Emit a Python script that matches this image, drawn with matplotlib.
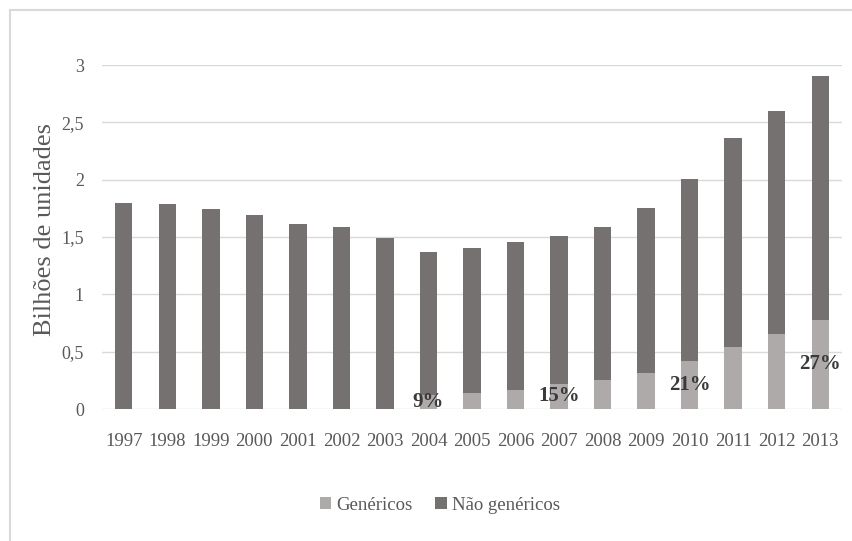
import numpy as np
import matplotlib
matplotlib.use("Agg")
import matplotlib.pyplot as plt
from matplotlib.lines import Line2D

# -----------------------------------------------------
# DATA (bilhões de unidades)
# -----------------------------------------------------
anos = ["1997", "1998", "1999", "2000", "2001", "2002", "2003", "2004", "2005",
        "2006", "2007", "2008", "2009", "2010", "2011", "2012", "2013"]
genericos = [0.0, 0.0, 0.0, 0.0, 0.0, 0.0, 0.0, 0.12, 0.14,
             0.17, 0.22, 0.25, 0.31, 0.42, 0.54, 0.65, 0.78]
nao_genericos = [1.80, 1.785, 1.745, 1.69, 1.61, 1.59, 1.495, 1.25, 1.26,
                 1.29, 1.29, 1.34, 1.44, 1.59, 1.82, 1.945, 2.12]
# years that get a share label
anos_rotulo = ["2004", "2007", "2010", "2013"]

# -----------------------------------------------------
# STYLE
# -----------------------------------------------------
COR_GEN = "#AEAAAA"
COR_NAO = "#767171"
COR_GRADE = "#D9D9D9"
COR_TEXTO = "#595959"
plt.rcParams["font.family"] = ["Liberation Serif", "DejaVu Serif"]

fig = plt.figure(figsize=(8.52, 5.41), dpi=100)
ax = fig.add_axes([102 / 852, 132 / 541, 740 / 852, 344 / 541])

x = np.arange(len(anos))
gen = np.array(genericos)
nao = np.array(nao_genericos)

ax.bar(x, gen, width=0.4, color=COR_GEN, label="Genéricos", zorder=2)
ax.bar(x, nao, width=0.4, bottom=gen, color=COR_NAO, label="Não genéricos", zorder=2)

# share of generics, centred on the light segment
for ano in anos_rotulo:
    i = anos.index(ano)
    pct = gen[i] / (gen[i] + nao[i]) * 100
    ax.text(x[i], gen[i] / 2, f"{pct:.0f}%", ha="center", va="center",
            fontsize=15, fontweight="bold", color="#3A3A3A", zorder=3)

ax.set_xlim(-0.5, len(anos) - 0.5)
ax.set_ylim(0, 3)
ax.set_yticks(np.arange(0, 3.01, 0.5))
ax.set_yticklabels(["0", "0,5", "1", "1,5", "2", "2,5", "3"])
ax.set_xticks(x)
ax.set_xticklabels(anos)
ax.tick_params(axis="y", length=0, pad=13, labelsize=13, labelcolor=COR_TEXTO)
ax.tick_params(axis="x", length=0, pad=17, labelsize=13.5, labelcolor=COR_TEXTO)
ax.grid(axis="y", color=COR_GRADE, linewidth=1.0, zorder=0)
ax.set_axisbelow(True)
for s in ax.spines.values():
    s.set_visible(False)

fig.text(45 / 852, 1 - 230 / 541, "Bilhões de unidades", rotation=90,
         ha="center", va="center", fontsize=19, color=COR_TEXTO)

fig.legend(loc="center", bbox_to_anchor=(440 / 852, 36 / 541), ncol=2,
           frameon=False, fontsize=13.5, handlelength=0.6, handleheight=0.6,
           handletextpad=0.3, columnspacing=1.2, labelcolor=COR_TEXTO)

# chart area border (top and left edges visible)
fig.add_artist(Line2D([10 / 852, 1], [1 - 10 / 541, 1 - 10 / 541],
                      transform=fig.transFigure, color=COR_GRADE, linewidth=1.5))
fig.add_artist(Line2D([10 / 852, 10 / 852], [0, 1 - 10 / 541],
                      transform=fig.transFigure, color=COR_GRADE, linewidth=1.5))

fig.savefig("out.png", dpi=100, facecolor="white")
